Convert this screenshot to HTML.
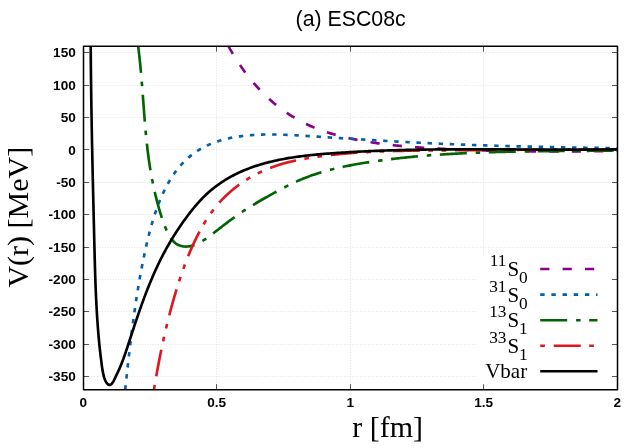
<!DOCTYPE html><html><head><meta charset="utf-8"><style>
html,body{margin:0;padding:0;background:#fff}
body{width:640px;height:448px;position:relative;overflow:hidden}
svg{will-change:transform}

</style></head><body>
<svg width="640" height="448" viewBox="0 0 640 448" style="position:absolute;left:0;top:0">
<defs><clipPath id="c"><rect x="83.50" y="46.25" width="534.00" height="343.40"/></clipPath></defs>
<path d="M83.50,376.50H617.50M83.50,344.50H617.50M83.50,311.50H617.50M83.50,279.50H617.50M83.50,247.50H617.50M83.50,214.50H617.50M83.50,182.50H617.50M83.50,149.50H617.50M83.50,117.50H617.50M83.50,85.50H617.50M83.50,52.50H617.50M216.50,46.25V389.65M350.50,46.25V389.65M483.50,46.25V389.65" stroke="#e2e2e2" stroke-width="1" stroke-dasharray="1 1.66" fill="none"/>
<rect x="476" y="256" width="134.5" height="128.5" fill="#fff"/>
<path d="M83.50,376.50h5.45M617.50,376.50h-5.45M83.50,344.50h5.45M617.50,344.50h-5.45M83.50,311.50h5.45M617.50,311.50h-5.45M83.50,279.50h5.45M617.50,279.50h-5.45M83.50,247.50h5.45M617.50,247.50h-5.45M83.50,214.50h5.45M617.50,214.50h-5.45M83.50,182.50h5.45M617.50,182.50h-5.45M83.50,149.50h5.45M617.50,149.50h-5.45M83.50,117.50h5.45M617.50,117.50h-5.45M83.50,85.50h5.45M617.50,85.50h-5.45M83.50,52.50h5.45M617.50,52.50h-5.45M83.50,389.65v-5.45M83.50,46.25v5.45M216.50,389.65v-5.45M216.50,46.25v5.45M350.50,389.65v-5.45M350.50,46.25v5.45M483.50,389.65v-5.45M483.50,46.25v5.45M617.50,389.65v-5.45M617.50,46.25v5.45" stroke="#000" stroke-width="0.66" fill="none"/>
<g clip-path="url(#c)" fill="none" stroke-width="2.65" stroke-linejoin="round">
<path d="M228.32,45.92 229.04,47.23 229.76,48.54 230.50,49.84 231.24,51.14 232.00,52.44 232.76,53.72 233.53,55.01 234.30,56.28 235.09,57.56 235.89,58.82 236.69,60.08 237.51,61.34 238.33,62.59 239.16,63.83 240.00,65.07 240.84,66.31 241.70,67.53 242.56,68.75 243.44,69.97 244.32,71.18 245.21,72.38 246.11,73.58 247.02,74.76 247.93,75.95 248.86,77.12 249.79,78.29 250.73,79.45 251.69,80.61 252.65,81.76 253.61,82.90 254.59,84.03 255.58,85.15 256.57,86.27 257.58,87.38 258.59,88.48 259.61,89.57 260.64,90.66 261.68,91.74 262.73,92.80 263.79,93.86 264.85,94.91 265.93,95.95 267.01,96.98 268.11,98.00 269.21,99.01 270.32,100.01 271.44,101.00 272.57,101.98 273.71,102.95 274.86,103.91 276.02,104.86 277.19,105.79 278.36,106.72 279.55,107.63 280.74,108.54 281.94,109.43 283.15,110.31 284.37,111.17 285.60,112.03 286.83,112.88 288.08,113.71 289.33,114.53 290.59,115.33 291.85,116.13 293.13,116.91 294.41,117.68 295.70,118.44 297.00,119.19 298.30,119.92 299.61,120.64 300.93,121.35 302.26,122.04 303.59,122.72 304.93,123.39 306.28,124.04 307.63,124.68 308.99,125.31 310.35,125.92 311.72,126.52 313.10,127.11 314.48,127.68 315.86,128.25 317.26,128.80 318.65,129.33 320.05,129.86 321.46,130.37 322.87,130.87 324.28,131.36 325.70,131.84 327.12,132.30 328.55,132.76 329.98,133.20 331.41,133.64 332.84,134.06 334.28,134.48 335.72,134.88 337.16,135.28 338.61,135.66 340.06,136.04 341.51,136.41 342.96,136.76 344.41,137.12 345.87,137.46 347.33,137.79 348.79,138.12 350.25,138.44 351.71,138.76 353.17,139.06 354.64,139.36 356.11,139.66 357.58,139.95 359.05,140.23 360.52,140.50 361.99,140.77 363.46,141.03 364.93,141.29 366.41,141.54 367.88,141.79 369.36,142.03 370.84,142.26 372.32,142.49 373.80,142.71 375.28,142.93 376.76,143.14 378.24,143.35 379.72,143.56 381.20,143.75 382.69,143.95 384.17,144.14 385.66,144.32 387.14,144.50 388.63,144.68 390.11,144.85 391.60,145.02 393.09,145.18 394.57,145.34 396.06,145.49 397.55,145.65 399.04,145.79 400.53,145.94 402.02,146.08 403.51,146.22 405.00,146.35 406.49,146.48 407.98,146.61 409.47,146.73 410.96,146.85 412.45,146.97 413.94,147.09 415.44,147.20 416.93,147.31 418.42,147.42 419.91,147.52 421.41,147.62 422.90,147.72 424.39,147.82 425.88,147.92 427.38,148.01 428.87,148.10 430.36,148.19 431.86,148.28 433.35,148.36 434.84,148.45 436.34,148.53 437.83,148.61 439.33,148.69 440.82,148.77 442.31,148.85 443.81,148.92 445.30,149.00 446.80,149.07 448.29,149.14 449.79,149.21 451.28,149.28 452.78,149.35 454.27,149.41 455.76,149.48 457.26,149.54 458.75,149.60 460.25,149.66 461.74,149.72 463.24,149.78 464.73,149.84 466.23,149.90 467.72,149.95 469.22,150.00 470.71,150.06 472.21,150.11 473.70,150.16 475.20,150.21 476.69,150.26 478.19,150.30 479.69,150.35 481.18,150.39 482.68,150.44 484.17,150.48 485.67,150.52 487.16,150.56 488.66,150.60 490.15,150.64 491.65,150.68 493.15,150.71 494.64,150.75 496.14,150.78 497.63,150.82 499.13,150.85 500.62,150.88 502.12,150.91 503.62,150.94 505.11,150.97 506.61,151.00 508.10,151.02 509.60,151.05 511.09,151.08 512.59,151.10 514.09,151.12 515.58,151.14 517.08,151.17 518.57,151.19 520.07,151.21 521.57,151.22 523.06,151.24 524.56,151.26 526.05,151.27 527.55,151.29 529.05,151.30 530.54,151.32 532.04,151.33 533.53,151.34 535.03,151.35 536.53,151.36 538.02,151.37 539.52,151.38 541.01,151.39 542.51,151.40 544.01,151.40 545.50,151.41 547.00,151.41 548.49,151.42 549.99,151.42 551.49,151.42 552.98,151.43 554.48,151.43 555.97,151.43 557.47,151.43 558.97,151.43 560.46,151.42 561.96,151.42 563.46,151.42 564.95,151.42 566.45,151.41 567.94,151.41 569.44,151.40 570.94,151.40 572.43,151.39 573.93,151.38 575.42,151.37 576.92,151.37 578.42,151.36 579.91,151.35 581.41,151.34 582.90,151.33 584.40,151.31 585.90,151.30 587.39,151.29 588.89,151.28 590.38,151.26 591.88,151.25 593.38,151.23 594.87,151.22 596.37,151.20 597.86,151.19 599.36,151.17 600.86,151.15 602.35,151.14 603.85,151.12 605.34,151.10 606.84,151.08 608.34,151.06 609.83,151.04 611.33,151.02 612.82,151.00 614.32,150.98 615.82,150.96 617.31,150.93" stroke="#8b008b" stroke-dasharray="9.2 13.2"/>
<path d="M125.22,389.62 125.38,388.12 125.54,386.63 125.70,385.14 125.86,383.65 126.03,382.16 126.19,380.67 126.35,379.18 126.51,377.69 126.67,376.20 126.83,374.71 127.00,373.22 127.16,371.72 127.32,370.23 127.49,368.74 127.65,367.25 127.81,365.76 127.98,364.27 128.15,362.78 128.31,361.29 128.48,359.80 128.65,358.31 128.81,356.82 128.98,355.33 129.15,353.84 129.32,352.35 129.50,350.86 129.67,349.37 129.84,347.88 130.02,346.39 130.19,344.90 130.37,343.41 130.55,341.92 130.73,340.44 130.91,338.95 131.09,337.46 131.27,335.97 131.46,334.48 131.64,332.99 131.83,331.51 132.02,330.02 132.21,328.53 132.40,327.04 132.59,325.56 132.79,324.07 132.98,322.58 133.18,321.10 133.38,319.61 133.58,318.12 133.78,316.64 133.99,315.15 134.20,313.67 134.41,312.18 134.62,310.70 134.83,309.21 135.04,307.73 135.26,306.24 135.48,304.76 135.70,303.28 135.92,301.80 136.15,300.31 136.38,298.83 136.61,297.35 136.84,295.87 137.07,294.39 137.31,292.90 137.55,291.42 137.79,289.94 138.03,288.46 138.28,286.99 138.53,285.51 138.78,284.03 139.03,282.55 139.29,281.07 139.55,279.60 139.81,278.12 140.07,276.64 140.34,275.17 140.61,273.69 140.88,272.22 141.16,270.74 141.44,269.27 141.72,267.80 142.00,266.32 142.29,264.85 142.57,263.38 142.87,261.91 143.16,260.44 143.46,258.97 143.76,257.50 144.06,256.03 144.37,254.56 144.68,253.10 144.99,251.63 145.31,250.16 145.63,248.70 145.95,247.23 146.28,245.77 146.61,244.31 146.94,242.85 147.29,241.39 147.63,239.93 147.98,238.47 148.34,237.01 148.70,235.56 149.07,234.10 149.44,232.65 149.82,231.20 150.20,229.75 150.60,228.30 150.99,226.86 151.40,225.41 151.81,223.97 152.23,222.53 152.66,221.09 153.10,219.66 153.54,218.23 153.99,216.80 154.45,215.37 154.92,213.94 155.40,212.52 155.88,211.10 156.38,209.69 156.88,208.28 157.40,206.87 157.92,205.46 158.46,204.06 159.00,202.67 159.56,201.27 160.13,199.89 160.71,198.50 161.30,197.12 161.90,195.75 162.51,194.38 163.14,193.02 163.78,191.66 164.43,190.31 165.10,188.97 165.78,187.63 166.48,186.31 167.18,184.98 167.91,183.67 168.65,182.37 169.40,181.07 170.17,179.78 170.96,178.50 171.76,177.24 172.58,175.98 173.41,174.74 174.27,173.50 175.14,172.28 176.03,171.07 176.93,169.88 177.86,168.70 178.80,167.53 179.76,166.38 180.75,165.25 181.75,164.13 182.77,163.04 183.81,161.96 184.87,160.89 185.95,159.85 187.04,158.83 188.16,157.83 189.30,156.85 190.46,155.90 191.63,154.97 192.82,154.06 194.04,153.18 195.26,152.31 196.51,151.48 197.77,150.66 199.04,149.87 200.33,149.10 201.63,148.36 202.95,147.64 204.27,146.94 205.61,146.27 206.96,145.61 208.32,144.98 209.69,144.38 211.07,143.79 212.46,143.23 213.86,142.69 215.27,142.17 216.68,141.67 218.11,141.19 219.54,140.74 220.97,140.30 222.41,139.89 223.86,139.50 225.31,139.12 226.77,138.77 228.23,138.43 229.69,138.11 231.16,137.81 232.63,137.52 234.11,137.25 235.59,137.00 237.07,136.76 238.55,136.53 240.04,136.32 241.52,136.13 243.01,135.94 244.50,135.77 245.99,135.61 247.48,135.47 248.98,135.33 250.47,135.21 251.97,135.10 253.46,135.00 254.96,134.90 256.46,134.82 257.96,134.75 259.45,134.69 260.95,134.63 262.45,134.59 263.95,134.55 265.45,134.52 266.95,134.50 268.45,134.49 269.95,134.48 271.45,134.48 272.95,134.49 274.45,134.50 275.95,134.53 277.45,134.55 278.95,134.59 280.44,134.63 281.94,134.67 283.44,134.72 284.94,134.77 286.44,134.83 287.94,134.90 289.44,134.96 290.93,135.03 292.43,135.11 293.93,135.19 295.43,135.27 296.92,135.35 298.42,135.44 299.92,135.53 301.41,135.62 302.91,135.71 304.41,135.80 305.90,135.90 307.40,136.00 308.90,136.09 310.39,136.19 311.89,136.29 313.39,136.39 314.88,136.49 316.38,136.58 317.88,136.68 319.37,136.78 320.87,136.88 322.37,136.98 323.86,137.07 325.36,137.17 326.85,137.27 328.35,137.36 329.85,137.46 331.34,137.56 332.84,137.65 334.34,137.75 335.83,137.85 337.33,137.94 338.83,138.04 340.32,138.14 341.82,138.23 343.32,138.33 344.81,138.42 346.31,138.52 347.81,138.61 349.30,138.70 350.80,138.80 352.30,138.89 353.79,138.99 355.29,139.08 356.79,139.17 358.28,139.27 359.78,139.36 361.28,139.45 362.77,139.54 364.27,139.63 365.77,139.72 367.26,139.82 368.76,139.91 370.26,140.00 371.75,140.09 373.25,140.18 374.75,140.27 376.25,140.35 377.74,140.44 379.24,140.53 380.74,140.62 382.23,140.71 383.73,140.79 385.23,140.88 386.73,140.97 388.22,141.05 389.72,141.14 391.22,141.22 392.71,141.30 394.21,141.39 395.71,141.47 397.21,141.56 398.70,141.64 400.20,141.72 401.70,141.80 403.20,141.88 404.69,141.96 406.19,142.04 407.69,142.12 409.19,142.20 410.68,142.28 412.18,142.36 413.68,142.43 415.18,142.51 416.67,142.59 418.17,142.66 419.67,142.74 421.17,142.81 422.66,142.89 424.16,142.96 425.66,143.03 427.16,143.10 428.66,143.18 430.15,143.25 431.65,143.32 433.15,143.39 434.65,143.45 436.15,143.52 437.64,143.59 439.14,143.66 440.64,143.72 442.14,143.79 443.64,143.85 445.14,143.92 446.63,143.98 448.13,144.04 449.63,144.11 451.13,144.17 452.63,144.23 454.13,144.29 455.62,144.35 457.12,144.41 458.62,144.46 460.12,144.52 461.62,144.58 463.12,144.64 464.61,144.69 466.11,144.75 467.61,144.80 469.11,144.86 470.61,144.91 472.11,144.96 473.61,145.01 475.11,145.07 476.60,145.12 478.10,145.17 479.60,145.22 481.10,145.27 482.60,145.32 484.10,145.37 485.60,145.41 487.10,145.46 488.59,145.51 490.09,145.55 491.59,145.60 493.09,145.65 494.59,145.69 496.09,145.73 497.59,145.78 499.09,145.82 500.59,145.86 502.09,145.91 503.58,145.95 505.08,145.99 506.58,146.03 508.08,146.07 509.58,146.11 511.08,146.15 512.58,146.19 514.08,146.23 515.58,146.27 517.08,146.31 518.58,146.35 520.07,146.38 521.57,146.42 523.07,146.46 524.57,146.49 526.07,146.53 527.57,146.56 529.07,146.60 530.57,146.63 532.07,146.67 533.57,146.70 535.07,146.73 536.57,146.77 538.06,146.80 539.56,146.83 541.06,146.87 542.56,146.90 544.06,146.93 545.56,146.96 547.06,146.99 548.56,147.02 550.06,147.05 551.56,147.08 553.06,147.11 554.56,147.14 556.06,147.17 557.56,147.20 559.05,147.23 560.55,147.26 562.05,147.29 563.55,147.31 565.05,147.34 566.55,147.37 568.05,147.40 569.55,147.42 571.05,147.45 572.55,147.48 574.05,147.50 575.55,147.53 577.05,147.56 578.55,147.58 580.05,147.61 581.55,147.63 583.04,147.66 584.54,147.68 586.04,147.71 587.54,147.73 589.04,147.76 590.54,147.78 592.04,147.81 593.54,147.83 595.04,147.86 596.54,147.88 598.04,147.91 599.54,147.93 601.04,147.95 602.54,147.98 604.04,148.00 605.54,148.02 607.04,148.05 608.54,148.07 610.03,148.09 611.53,148.12 613.03,148.14 614.53,148.16 616.03,148.19 617.53,148.21" stroke="#0060ad" stroke-dasharray="4.4 6.72"/>
<path d="M138.13,45.97 138.32,47.45 138.50,48.94 138.68,50.42 138.86,51.91 139.03,53.40 139.20,54.88 139.37,56.37 139.53,57.86 139.69,59.35 139.85,60.84 140.00,62.32 140.15,63.81 140.30,65.30 140.44,66.79 140.59,68.28 140.73,69.77 140.86,71.26 141.00,72.75 141.13,74.25 141.26,75.74 141.39,77.23 141.51,78.72 141.64,80.21 141.76,81.70 141.88,83.20 142.00,84.69 142.12,86.18 142.24,87.67 142.35,89.17 142.46,90.66 142.58,92.15 142.69,93.64 142.80,95.14 142.91,96.63 143.02,98.12 143.14,99.61 143.25,101.11 143.36,102.60 143.47,104.09 143.58,105.59 143.69,107.08 143.80,108.57 143.91,110.06 144.02,111.56 144.14,113.05 144.25,114.54 144.37,116.03 144.48,117.53 144.60,119.02 144.72,120.51 144.84,122.00 144.96,123.49 145.09,124.99 145.22,126.48 145.35,127.97 145.48,129.46 145.61,130.95 145.75,132.44 145.89,133.93 146.03,135.42 146.17,136.91 146.32,138.40 146.47,139.89 146.63,141.38 146.78,142.87 146.94,144.36 147.11,145.84 147.28,147.33 147.45,148.82 147.63,150.30 147.81,151.79 147.99,153.28 148.18,154.76 148.38,156.24 148.58,157.73 148.78,159.21 148.99,160.69 149.20,162.18 149.42,163.66 149.65,165.14 149.87,166.62 150.11,168.09 150.35,169.57 150.59,171.05 150.85,172.52 151.10,174.00 151.36,175.47 151.63,176.94 151.91,178.42 152.19,179.89 152.47,181.36 152.77,182.82 153.07,184.29 153.37,185.76 153.68,187.22 154.00,188.68 154.32,190.14 154.66,191.60 154.99,193.06 155.34,194.52 155.69,195.97 156.05,197.43 156.41,198.88 156.78,200.33 157.16,201.78 157.54,203.23 157.94,204.67 158.34,206.11 158.74,207.55 159.15,208.99 159.57,210.43 160.00,211.86 160.43,213.30 160.87,214.73 161.32,216.16 161.78,217.58 162.25,219.00 162.73,220.42 163.22,221.83 163.73,223.24 164.25,224.64 164.79,226.04 165.35,227.43 165.93,228.81 166.53,230.18 167.16,231.54 167.81,232.89 168.50,234.22 169.22,235.53 169.99,236.81 170.81,238.07 171.68,239.28 172.61,240.45 173.62,241.56 174.71,242.59 175.88,243.52 177.13,244.33 178.46,245.03 179.85,245.59 181.28,246.02 182.75,246.32 184.23,246.50 185.73,246.56 187.22,246.51 188.71,246.37 190.19,246.13 191.65,245.80 193.09,245.40 194.51,244.93 195.91,244.39 197.28,243.79 198.63,243.14 199.95,242.44 201.26,241.71 202.54,240.94 203.81,240.15 205.06,239.32 206.30,238.48 207.52,237.62 208.73,236.74 209.94,235.85 211.13,234.95 212.32,234.04 213.51,233.13 214.70,232.22 215.88,231.30 217.07,230.39 218.25,229.47 219.43,228.55 220.61,227.63 221.80,226.72 222.98,225.80 224.17,224.89 225.35,223.97 226.54,223.07 227.73,222.16 228.93,221.26 230.13,220.36 231.33,219.47 232.54,218.58 233.75,217.70 234.96,216.83 236.19,215.97 237.41,215.11 238.64,214.26 239.88,213.41 241.12,212.58 242.37,211.74 243.62,210.92 244.87,210.10 246.13,209.29 247.39,208.49 248.66,207.69 249.93,206.90 251.20,206.11 252.48,205.33 253.76,204.55 255.04,203.78 256.32,203.01 257.61,202.25 258.90,201.50 260.20,200.74 261.49,199.99 262.79,199.25 264.09,198.51 265.40,197.77 266.70,197.04 268.01,196.31 269.32,195.58 270.62,194.85 271.94,194.13 273.25,193.41 274.56,192.69 275.87,191.97 277.19,191.26 278.51,190.55 279.82,189.84 281.14,189.13 282.47,188.43 283.79,187.73 285.12,187.04 286.45,186.36 287.78,185.68 289.12,185.01 290.46,184.34 291.81,183.69 293.16,183.04 294.51,182.40 295.87,181.78 297.24,181.16 298.61,180.56 299.98,179.96 301.36,179.38 302.74,178.81 304.13,178.25 305.53,177.70 306.92,177.16 308.32,176.64 309.73,176.12 311.14,175.61 312.55,175.12 313.97,174.63 315.39,174.16 316.81,173.69 318.23,173.24 319.66,172.79 321.10,172.36 322.53,171.93 323.97,171.51 325.41,171.10 326.85,170.70 328.29,170.31 329.74,169.93 331.19,169.56 332.64,169.19 334.10,168.83 335.55,168.48 337.01,168.14 338.47,167.80 339.93,167.48 341.39,167.16 342.85,166.84 344.32,166.53 345.78,166.23 347.25,165.94 348.72,165.65 350.19,165.36 351.66,165.09 353.13,164.81 354.61,164.54 356.08,164.28 357.55,164.02 359.03,163.77 360.51,163.52 361.98,163.27 363.46,163.03 364.94,162.80 366.42,162.56 367.89,162.33 369.37,162.10 370.85,161.88 372.33,161.66 373.82,161.44 375.30,161.22 376.78,161.01 378.26,160.80 379.74,160.60 381.23,160.40 382.71,160.20 384.19,160.00 385.68,159.81 387.16,159.62 388.65,159.43 390.13,159.25 391.62,159.07 393.11,158.89 394.59,158.72 396.08,158.54 397.57,158.37 399.06,158.21 400.54,158.04 402.03,157.88 403.52,157.72 405.01,157.57 406.50,157.41 407.99,157.26 409.48,157.12 410.97,156.97 412.46,156.83 413.95,156.69 415.44,156.55 416.93,156.41 418.42,156.28 419.91,156.15 421.40,156.02 422.89,155.89 424.38,155.77 425.88,155.65 427.37,155.53 428.86,155.41 430.35,155.30 431.85,155.18 433.34,155.07 434.83,154.97 436.32,154.86 437.82,154.75 439.31,154.65 440.81,154.55 442.30,154.45 443.79,154.36 445.29,154.26 446.78,154.17 448.27,154.08 449.77,153.99 451.26,153.91 452.76,153.82 454.25,153.74 455.75,153.66 457.24,153.58 458.74,153.50 460.23,153.42 461.73,153.35 463.22,153.28 464.72,153.21 466.21,153.14 467.71,153.07 469.20,153.00 470.70,152.94 472.19,152.88 473.69,152.81 475.19,152.75 476.68,152.69 478.18,152.64 479.67,152.58 481.17,152.53 482.66,152.47 484.16,152.42 485.66,152.37 487.15,152.32 488.65,152.28 490.15,152.23 491.64,152.18 493.14,152.14 494.63,152.10 496.13,152.05 497.63,152.01 499.12,151.97 500.62,151.94 502.12,151.90 503.61,151.86 505.11,151.83 506.61,151.79 508.10,151.76 509.60,151.73 511.09,151.70 512.59,151.67 514.09,151.64 515.58,151.61 517.08,151.58 518.58,151.55 520.07,151.53 521.57,151.50 523.07,151.48 524.56,151.45 526.06,151.43 527.56,151.41 529.05,151.38 530.55,151.36 532.05,151.34 533.55,151.32 535.04,151.30 536.54,151.28 538.04,151.27 539.53,151.25 541.03,151.23 542.53,151.21 544.02,151.20 545.52,151.18 547.02,151.17 548.51,151.15 550.01,151.14 551.51,151.12 553.00,151.11 554.50,151.10 556.00,151.08 557.49,151.07 558.99,151.06 560.49,151.04 561.98,151.03 563.48,151.02 564.98,151.01 566.48,150.99 567.97,150.98 569.47,150.97 570.97,150.96 572.46,150.95 573.96,150.93 575.46,150.92 576.95,150.91 578.45,150.90 579.95,150.88 581.44,150.87 582.94,150.86 584.44,150.85 585.93,150.83 587.43,150.82 588.93,150.81 590.42,150.79 591.92,150.78 593.42,150.77 594.92,150.75 596.41,150.74 597.91,150.72 599.41,150.71 600.90,150.69 602.40,150.67 603.90,150.66 605.39,150.64 606.89,150.62 608.39,150.60 609.88,150.58 611.38,150.56 612.88,150.54 614.37,150.52 615.87,150.50 617.37,150.47" stroke="#006400" stroke-dasharray="27 8.9 4.5 8.6"/>
<path d="M154.01,389.55 154.25,388.07 154.50,386.59 154.74,385.11 154.99,383.63 155.24,382.16 155.50,380.68 155.75,379.20 156.01,377.73 156.27,376.25 156.53,374.78 156.79,373.30 157.05,371.83 157.32,370.35 157.59,368.88 157.86,367.40 158.13,365.93 158.41,364.46 158.69,362.99 158.97,361.51 159.25,360.04 159.54,358.57 159.83,357.10 160.12,355.63 160.41,354.16 160.70,352.69 161.00,351.23 161.30,349.76 161.61,348.29 161.91,346.82 162.22,345.36 162.54,343.89 162.85,342.43 163.17,340.96 163.49,339.50 163.81,338.04 164.14,336.57 164.47,335.11 164.80,333.65 165.14,332.19 165.48,330.73 165.82,329.27 166.17,327.82 166.52,326.36 166.87,324.90 167.22,323.45 167.58,321.99 167.94,320.54 168.31,319.08 168.67,317.63 169.05,316.18 169.42,314.73 169.80,313.28 170.18,311.83 170.56,310.38 170.95,308.93 171.34,307.49 171.73,306.04 172.13,304.60 172.53,303.15 172.93,301.71 173.34,300.27 173.75,298.83 174.17,297.39 174.58,295.95 175.01,294.51 175.43,293.08 175.87,291.64 176.30,290.21 176.74,288.77 177.18,287.34 177.63,285.91 178.08,284.48 178.54,283.06 179.00,281.63 179.46,280.21 179.93,278.78 180.41,277.36 180.88,275.94 181.37,274.52 181.86,273.11 182.35,271.69 182.85,270.28 183.35,268.87 183.86,267.46 184.37,266.05 184.89,264.65 185.42,263.24 185.95,261.84 186.49,260.44 187.03,259.05 187.58,257.65 188.14,256.26 188.70,254.87 189.27,253.49 189.85,252.11 190.43,250.73 191.03,249.35 191.63,247.98 192.23,246.61 192.85,245.24 193.47,243.88 194.10,242.52 194.74,241.16 195.39,239.81 196.04,238.46 196.71,237.12 197.38,235.78 198.06,234.45 198.75,233.12 199.45,231.79 200.16,230.48 200.88,229.16 201.61,227.85 202.35,226.55 203.11,225.25 203.87,223.96 204.64,222.68 205.43,221.40 206.22,220.13 207.03,218.87 207.85,217.62 208.68,216.37 209.53,215.14 210.38,213.91 211.25,212.69 212.14,211.48 213.03,210.28 213.94,209.08 214.87,207.90 215.80,206.74 216.75,205.58 217.72,204.43 218.70,203.30 219.69,202.18 220.70,201.07 221.72,199.97 222.76,198.89 223.80,197.82 224.87,196.76 225.94,195.72 227.03,194.68 228.13,193.67 229.24,192.66 230.36,191.67 231.50,190.70 232.65,189.73 233.81,188.78 234.98,187.85 236.16,186.93 237.35,186.02 238.55,185.12 239.77,184.24 240.99,183.38 242.22,182.53 243.46,181.69 244.72,180.87 245.98,180.06 247.25,179.26 248.53,178.48 249.81,177.72 251.11,176.96 252.41,176.23 253.73,175.50 255.05,174.80 256.38,174.10 257.71,173.42 259.05,172.76 260.40,172.11 261.76,171.47 263.13,170.85 264.50,170.25 265.87,169.66 267.26,169.08 268.65,168.52 270.04,167.98 271.44,167.44 272.85,166.93 274.26,166.43 275.68,165.94 277.10,165.47 278.52,165.01 279.95,164.56 281.39,164.13 282.83,163.71 284.27,163.30 285.71,162.90 287.16,162.52 288.61,162.15 290.07,161.79 291.52,161.44 292.98,161.10 294.45,160.77 295.91,160.45 297.38,160.14 298.84,159.84 300.31,159.54 301.78,159.26 303.26,158.99 304.73,158.72 306.21,158.46 307.68,158.21 309.16,157.96 310.64,157.72 312.12,157.49 313.60,157.27 315.09,157.05 316.57,156.83 318.05,156.62 319.54,156.42 321.02,156.22 322.51,156.02 323.99,155.83 325.48,155.65 326.97,155.47 328.45,155.29 329.94,155.12 331.43,154.95 332.92,154.78 334.41,154.62 335.90,154.47 337.39,154.32 338.88,154.17 340.37,154.03 341.87,153.89 343.36,153.75 344.85,153.62 346.34,153.49 347.84,153.37 349.33,153.24 350.82,153.13 352.32,153.01 353.81,152.90 355.31,152.80 356.80,152.69 358.30,152.59 359.79,152.50 361.29,152.40 362.78,152.31 364.28,152.22 365.77,152.14 367.27,152.06 368.77,151.98 370.26,151.90 371.76,151.83 373.26,151.76 374.75,151.69 376.25,151.63 377.75,151.56 379.24,151.50 380.74,151.45 382.24,151.39 383.74,151.34 385.23,151.29 386.73,151.24 388.23,151.19 389.73,151.15 391.22,151.10 392.72,151.06 394.22,151.02 395.72,150.99 397.22,150.95 398.71,150.92 400.21,150.88 401.71,150.85 403.21,150.82 404.71,150.80 406.20,150.77 407.70,150.75 409.20,150.72 410.70,150.70 412.20,150.68 413.70,150.66 415.19,150.64 416.69,150.62 418.19,150.60 419.69,150.59 421.19,150.57 422.68,150.55 424.18,150.54 425.68,150.53 427.18,150.51 428.68,150.50 430.18,150.49 431.67,150.47 433.17,150.46 434.67,150.45 436.17,150.44 437.67,150.43 439.17,150.42 440.66,150.40 442.16,150.39 443.66,150.38 445.16,150.37 446.66,150.36 448.16,150.35 449.65,150.33 451.15,150.32 452.65,150.31 454.15,150.30 455.65,150.29 457.15,150.27 458.64,150.26 460.14,150.25 461.64,150.24 463.14,150.23 464.64,150.22 466.14,150.20 467.63,150.19 469.13,150.18 470.63,150.17 472.13,150.16 473.63,150.14 475.12,150.13 476.62,150.12 478.12,150.11 479.62,150.10 481.12,150.08 482.62,150.07 484.11,150.06 485.61,150.05 487.11,150.04 488.61,150.03 490.11,150.01 491.61,150.00 493.10,149.99 494.60,149.98 496.10,149.97 497.60,149.96 499.10,149.95 500.60,149.94 502.09,149.93 503.59,149.92 505.09,149.90 506.59,149.89 508.09,149.88 509.59,149.87 511.08,149.86 512.58,149.85 514.08,149.84 515.58,149.83 517.08,149.82 518.58,149.81 520.07,149.80 521.57,149.79 523.07,149.78 524.57,149.78 526.07,149.77 527.57,149.76 529.06,149.75 530.56,149.74 532.06,149.73 533.56,149.72 535.06,149.72 536.56,149.71 538.05,149.70 539.55,149.69 541.05,149.68 542.55,149.68 544.05,149.67 545.55,149.66 547.04,149.66 548.54,149.65 550.04,149.64 551.54,149.64 553.04,149.63 554.54,149.63 556.03,149.62 557.53,149.62 559.03,149.61 560.53,149.61 562.03,149.60 563.53,149.60 565.02,149.59 566.52,149.59 568.02,149.59 569.52,149.58 571.02,149.58 572.52,149.58 574.01,149.57 575.51,149.57 577.01,149.57 578.51,149.57 580.01,149.57 581.51,149.56 583.00,149.56 584.50,149.56 586.00,149.56 587.50,149.56 589.00,149.56 590.50,149.56 591.99,149.56 593.49,149.56 594.99,149.57 596.49,149.57 597.99,149.57 599.49,149.57 600.98,149.57 602.48,149.58 603.98,149.58 605.48,149.58 606.98,149.59 608.48,149.59 609.97,149.60 611.47,149.60 612.97,149.61 614.47,149.61 615.97,149.62 617.47,149.62" stroke="#dd181f" stroke-dasharray="4.7 8.8 27 8.5 4.7 8.5"/>
<path d="M90.71,45.97 90.72,47.47 90.73,48.97 90.74,50.47 90.75,51.97 90.76,53.47 90.77,54.97 90.79,56.46 90.80,57.96 90.81,59.46 90.82,60.96 90.84,62.46 90.85,63.96 90.86,65.46 90.88,66.96 90.89,68.45 90.91,69.95 90.92,71.45 90.94,72.95 90.95,74.45 90.97,75.95 90.99,77.45 91.01,78.94 91.02,80.44 91.04,81.94 91.06,83.44 91.08,84.94 91.10,86.44 91.12,87.94 91.14,89.43 91.16,90.93 91.18,92.43 91.20,93.93 91.22,95.43 91.24,96.93 91.26,98.43 91.28,99.92 91.31,101.42 91.33,102.92 91.35,104.42 91.37,105.92 91.40,107.42 91.42,108.91 91.45,110.41 91.47,111.91 91.50,113.41 91.52,114.91 91.55,116.41 91.57,117.91 91.60,119.40 91.62,120.90 91.65,122.40 91.68,123.90 91.70,125.40 91.73,126.90 91.76,128.39 91.79,129.89 91.81,131.39 91.84,132.89 91.87,134.39 91.90,135.89 91.93,137.39 91.96,138.88 91.99,140.38 92.01,141.88 92.04,143.38 92.07,144.88 92.10,146.38 92.14,147.87 92.17,149.37 92.20,150.87 92.23,152.37 92.26,153.87 92.29,155.37 92.32,156.86 92.35,158.36 92.39,159.86 92.42,161.36 92.45,162.86 92.48,164.36 92.51,165.85 92.55,167.35 92.58,168.85 92.61,170.35 92.65,171.85 92.68,173.35 92.71,174.84 92.75,176.34 92.78,177.84 92.82,179.34 92.85,180.84 92.88,182.34 92.92,183.83 92.95,185.33 92.99,186.83 93.02,188.33 93.06,189.83 93.09,191.33 93.13,192.82 93.16,194.32 93.20,195.82 93.23,197.32 93.27,198.82 93.30,200.32 93.34,201.81 93.37,203.31 93.41,204.81 93.45,206.31 93.48,207.81 93.52,209.30 93.55,210.80 93.59,212.30 93.63,213.80 93.66,215.30 93.70,216.80 93.74,218.29 93.77,219.79 93.81,221.29 93.84,222.79 93.88,224.29 93.92,225.79 93.95,227.28 93.99,228.78 94.03,230.28 94.06,231.78 94.10,233.28 94.14,234.77 94.17,236.27 94.21,237.77 94.25,239.27 94.28,240.77 94.32,242.27 94.36,243.76 94.39,245.26 94.43,246.76 94.47,248.26 94.50,249.76 94.54,251.26 94.58,252.75 94.62,254.25 94.65,255.75 94.69,257.25 94.73,258.75 94.77,260.24 94.81,261.74 94.85,263.24 94.90,264.74 94.94,266.24 94.98,267.74 95.02,269.23 95.07,270.73 95.11,272.23 95.16,273.73 95.21,275.23 95.26,276.72 95.31,278.22 95.36,279.72 95.41,281.22 95.46,282.71 95.52,284.21 95.57,285.71 95.63,287.21 95.69,288.70 95.75,290.20 95.81,291.70 95.88,293.20 95.94,294.69 96.01,296.19 96.08,297.69 96.15,299.19 96.22,300.68 96.29,302.18 96.37,303.68 96.45,305.17 96.53,306.67 96.61,308.17 96.69,309.66 96.78,311.16 96.87,312.65 96.96,314.15 97.05,315.65 97.15,317.14 97.25,318.64 97.35,320.13 97.45,321.63 97.56,323.12 97.66,324.62 97.77,326.11 97.89,327.61 98.00,329.10 98.12,330.59 98.25,332.09 98.37,333.58 98.50,335.07 98.63,336.57 98.76,338.06 98.90,339.55 99.04,341.04 99.18,342.54 99.33,344.03 99.48,345.52 99.63,347.01 99.79,348.50 99.95,349.99 100.12,351.48 100.28,352.97 100.45,354.46 100.63,355.95 100.80,357.44 100.98,358.92 101.17,360.41 101.36,361.90 101.55,363.38 101.74,364.87 101.95,366.35 102.16,367.84 102.39,369.32 102.64,370.80 102.91,372.27 103.21,373.74 103.54,375.20 103.93,376.65 104.37,378.08 104.88,379.49 105.47,380.86 106.18,382.18 107.04,383.41 108.11,384.46 109.48,385.02 110.89,384.61 111.98,383.59 112.84,382.36 113.59,381.07 114.27,379.73 114.92,378.38 115.55,377.02 116.18,375.66 116.82,374.30 117.46,372.95 118.10,371.59 118.73,370.23 119.34,368.87 119.94,367.49 120.53,366.11 121.10,364.73 121.66,363.34 122.20,361.94 122.74,360.54 123.26,359.14 123.77,357.73 124.28,356.32 124.78,354.90 125.27,353.49 125.75,352.07 126.23,350.65 126.70,349.23 127.17,347.80 127.64,346.38 128.11,344.95 128.57,343.53 129.04,342.11 129.50,340.68 129.97,339.26 130.43,337.83 130.90,336.41 131.37,334.98 131.83,333.56 132.30,332.14 132.77,330.71 133.24,329.29 133.71,327.87 134.18,326.44 134.66,325.02 135.13,323.60 135.61,322.18 136.09,320.76 136.57,319.34 137.05,317.92 137.53,316.50 138.02,315.08 138.51,313.67 139.00,312.25 139.49,310.84 139.99,309.42 140.48,308.01 140.99,306.60 141.49,305.18 142.00,303.77 142.51,302.37 143.02,300.96 143.54,299.55 144.06,298.15 144.59,296.74 145.11,295.34 145.65,293.94 146.18,292.54 146.72,291.14 147.27,289.75 147.82,288.35 148.37,286.96 148.93,285.57 149.49,284.18 150.06,282.79 150.63,281.41 151.21,280.02 151.79,278.64 152.38,277.26 152.97,275.89 153.57,274.52 154.18,273.14 154.79,271.78 155.41,270.41 156.03,269.05 156.66,267.69 157.29,266.33 157.93,264.97 158.58,263.62 159.23,262.27 159.89,260.93 160.56,259.58 161.23,258.25 161.91,256.91 162.60,255.58 163.30,254.25 164.00,252.93 164.70,251.61 165.42,250.29 166.14,248.97 166.87,247.67 167.61,246.36 168.35,245.06 169.10,243.76 169.85,242.47 170.62,241.18 171.39,239.89 172.16,238.61 172.94,237.33 173.73,236.06 174.53,234.79 175.33,233.52 176.14,232.26 176.96,231.00 177.78,229.75 178.61,228.50 179.45,227.26 180.29,226.02 181.14,224.78 181.99,223.55 182.85,222.32 183.72,221.10 184.59,219.88 185.47,218.67 186.36,217.46 187.25,216.26 188.15,215.06 189.06,213.87 189.98,212.68 190.90,211.50 191.83,210.33 192.77,209.16 193.72,208.00 194.68,206.85 195.64,205.70 196.62,204.56 197.61,203.44 198.61,202.32 199.61,201.21 200.63,200.11 201.67,199.03 202.71,197.95 203.76,196.89 204.83,195.83 205.91,194.80 207.01,193.77 208.11,192.76 209.23,191.77 210.37,190.79 211.51,189.82 212.67,188.87 213.84,187.93 215.02,187.01 216.22,186.10 217.42,185.21 218.64,184.34 219.87,183.48 221.10,182.63 222.35,181.80 223.61,180.99 224.88,180.19 226.16,179.41 227.44,178.64 228.74,177.89 230.05,177.15 231.36,176.43 232.68,175.72 234.01,175.03 235.35,174.35 236.69,173.69 238.04,173.04 239.40,172.41 240.76,171.79 242.14,171.18 243.51,170.59 244.90,170.02 246.28,169.45 247.68,168.90 249.08,168.37 250.48,167.84 251.89,167.33 253.31,166.83 254.72,166.35 256.15,165.88 257.57,165.42 259.00,164.97 260.44,164.53 261.87,164.11 263.31,163.69 264.76,163.29 266.20,162.90 267.65,162.51 269.10,162.14 270.56,161.78 272.02,161.43 273.48,161.09 274.94,160.76 276.40,160.44 277.87,160.13 279.33,159.82 280.80,159.53 282.27,159.24 283.75,158.96 285.22,158.69 286.70,158.43 288.17,158.18 289.65,157.93 291.13,157.69 292.61,157.46 294.09,157.24 295.58,157.02 297.06,156.81 298.55,156.60 300.03,156.40 301.52,156.21 303.00,156.02 304.49,155.84 305.98,155.67 307.47,155.50 308.96,155.33 310.45,155.17 311.94,155.01 313.43,154.86 314.92,154.72 316.41,154.57 317.91,154.44 319.40,154.30 320.89,154.17 322.38,154.04 323.88,153.92 325.37,153.80 326.87,153.68 328.36,153.57 329.85,153.45 331.35,153.34 332.84,153.24 334.34,153.13 335.83,153.03 337.33,152.93 338.83,152.83 340.32,152.73 341.82,152.64 343.31,152.54 344.81,152.45 346.30,152.36 347.80,152.27 349.30,152.18 350.79,152.09 352.29,152.01 353.78,151.93 355.28,151.85 356.78,151.77 358.27,151.69 359.77,151.61 361.27,151.54 362.76,151.46 364.26,151.39 365.76,151.32 367.26,151.25 368.75,151.18 370.25,151.12 371.75,151.05 373.24,150.99 374.74,150.93 376.24,150.87 377.74,150.81 379.23,150.75 380.73,150.69 382.23,150.64 383.73,150.58 385.23,150.53 386.72,150.48 388.22,150.43 389.72,150.38 391.22,150.33 392.72,150.29 394.21,150.24 395.71,150.20 397.21,150.16 398.71,150.12 400.21,150.08 401.70,150.04 403.20,150.00 404.70,149.96 406.20,149.93 407.70,149.89 409.20,149.86 410.69,149.83 412.19,149.80 413.69,149.77 415.19,149.74 416.69,149.71 418.19,149.69 419.68,149.66 421.18,149.64 422.68,149.61 424.18,149.59 425.68,149.57 427.18,149.55 428.68,149.53 430.17,149.51 431.67,149.49 433.17,149.47 434.67,149.46 436.17,149.44 437.67,149.43 439.17,149.41 440.66,149.40 442.16,149.39 443.66,149.38 445.16,149.36 446.66,149.35 448.16,149.35 449.66,149.34 451.15,149.33 452.65,149.32 454.15,149.32 455.65,149.31 457.15,149.30 458.65,149.30 460.15,149.30 461.65,149.29 463.14,149.29 464.64,149.29 466.14,149.29 467.64,149.29 469.14,149.29 470.64,149.29 472.14,149.29 473.63,149.29 475.13,149.29 476.63,149.29 478.13,149.29 479.63,149.29 481.13,149.30 482.63,149.30 484.13,149.31 485.62,149.31 487.12,149.31 488.62,149.32 490.12,149.32 491.62,149.33 493.12,149.34 494.62,149.34 496.11,149.35 497.61,149.35 499.11,149.36 500.61,149.37 502.11,149.37 503.61,149.38 505.11,149.39 506.61,149.40 508.10,149.40 509.60,149.41 511.10,149.42 512.60,149.43 514.10,149.44 515.60,149.44 517.10,149.45 518.59,149.46 520.09,149.47 521.59,149.48 523.09,149.49 524.59,149.49 526.09,149.50 527.59,149.51 529.09,149.52 530.58,149.53 532.08,149.53 533.58,149.54 535.08,149.55 536.58,149.56 538.08,149.56 539.58,149.57 541.07,149.58 542.57,149.58 544.07,149.59 545.57,149.59 547.07,149.60 548.57,149.61 550.07,149.61 551.57,149.62 553.06,149.62 554.56,149.62 556.06,149.63 557.56,149.63 559.06,149.63 560.56,149.64 562.06,149.64 563.55,149.64 565.05,149.64 566.55,149.64 568.05,149.64 569.55,149.64 571.05,149.64 572.55,149.64 574.05,149.64 575.54,149.64 577.04,149.64 578.54,149.63 580.04,149.63 581.54,149.62 583.04,149.62 584.54,149.61 586.04,149.61 587.53,149.60 589.03,149.59 590.53,149.58 592.03,149.57 593.53,149.56 595.03,149.55 596.53,149.54 598.02,149.53 599.52,149.52 601.02,149.50 602.52,149.49 604.02,149.47 605.52,149.46 607.02,149.44 608.51,149.42 610.01,149.40 611.51,149.38 613.01,149.36 614.51,149.34 616.01,149.32 617.51,149.30" stroke="#000000"/>
</g>
<rect x="83.50" y="46.25" width="534.00" height="343.40" fill="none" stroke="#000" stroke-width="1.5" stroke-linejoin="round"/>
<path d="M540.20,269.00H597.50" stroke="#8b008b" stroke-width="2.65" fill="none" stroke-dasharray="9.2 13.2"/>
<path d="M540.20,294.55H597.50" stroke="#0060ad" stroke-width="2.65" fill="none" stroke-dasharray="4.4 6.78"/>
<path d="M540.20,320.20H597.50" stroke="#006400" stroke-width="2.65" fill="none" stroke-dasharray="27 8.9 4.5 8.6"/>
<path d="M540.20,345.70H597.50" stroke="#dd181f" stroke-width="2.65" fill="none" stroke-dasharray="4.7 8.8 27 8.5 4.7 8.5"/>
<path d="M540.20,371.20H597.50" stroke="#000000" stroke-width="2.65" fill="none"/>
<text x="350.6" y="26" text-anchor="middle" font-family="Liberation Sans, sans-serif" font-size="21.3">(a) ESC08c</text>
<g font-family="Liberation Sans, sans-serif" font-weight="bold" font-size="13.6" text-anchor="end">
<text x="75.8" y="381">-350</text>
<text x="75.8" y="349">-300</text>
<text x="75.8" y="316">-250</text>
<text x="75.8" y="284">-200</text>
<text x="75.8" y="252">-150</text>
<text x="75.8" y="219">-100</text>
<text x="75.8" y="187">-50</text>
<text x="75.8" y="155">0</text>
<text x="75.8" y="122">50</text>
<text x="75.8" y="90">100</text>
<text x="75.8" y="57">150</text>
</g>
<g font-family="Liberation Sans, sans-serif" font-weight="bold" font-size="13.6" text-anchor="middle">
<text x="83.20" y="407">0</text>
<text x="216.70" y="407">0.5</text>
<text x="350.20" y="407">1</text>
<text x="483.70" y="407">1.5</text>
<text x="617.20" y="407">2</text>
</g>
<text x="352.2" y="437" font-family="Liberation Serif, serif" font-size="30">r [fm]</text>
<text transform="translate(28,217.2) rotate(-90)" text-anchor="middle" font-family="Liberation Serif, serif" font-size="30">V(r) [MeV]</text>
<g font-family="Liberation Serif, serif">
<text x="527.6" y="283" text-anchor="end" font-size="17.3">0</text>
<text x="519.2" y="276" text-anchor="end" font-size="21">S</text>
<text x="506.5" y="266" text-anchor="end" font-size="17.3">11</text>
<text x="527.6" y="309" text-anchor="end" font-size="17.3">0</text>
<text x="519.2" y="302" text-anchor="end" font-size="21">S</text>
<text x="506.5" y="292" text-anchor="end" font-size="17.3">31</text>
<text x="527.6" y="334" text-anchor="end" font-size="17.3">1</text>
<text x="519.2" y="327" text-anchor="end" font-size="21">S</text>
<text x="506.5" y="317" text-anchor="end" font-size="17.3">13</text>
<text x="527.6" y="360" text-anchor="end" font-size="17.3">1</text>
<text x="519.2" y="353" text-anchor="end" font-size="21">S</text>
<text x="506.5" y="343" text-anchor="end" font-size="17.3">33</text>
<text x="527.2" y="378" text-anchor="end" font-size="21">Vbar</text>
</g>
</svg>
</body></html>
